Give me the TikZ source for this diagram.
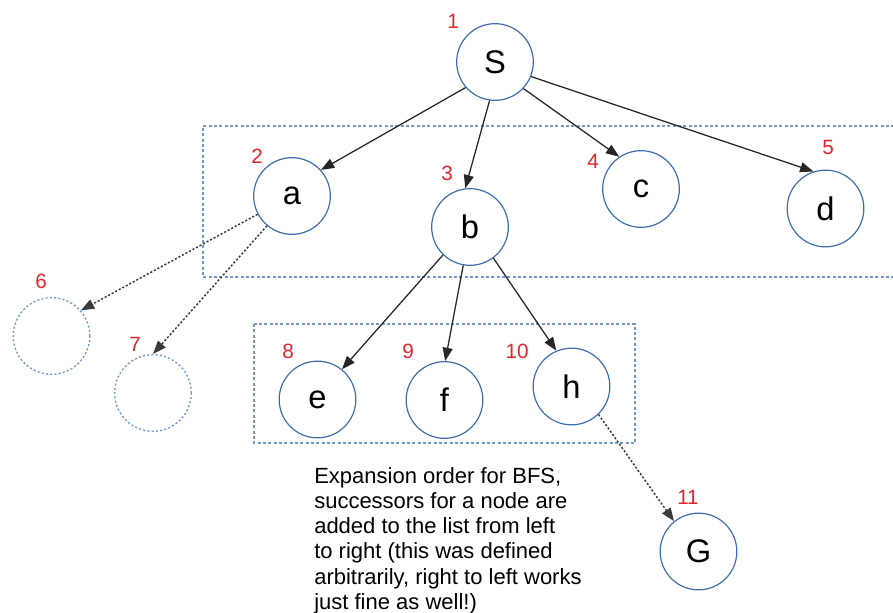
\documentclass[tikz,border=0pt]{standalone}
\usepackage{fontspec}
\setmainfont{Liberation Sans}
\usetikzlibrary{arrows.meta}
\definecolor{nodeblue}{HTML}{3F6EAF}
\definecolor{boxblue}{HTML}{7399CC}
\definecolor{lblred}{HTML}{E3242B}
\definecolor{dotgray}{HTML}{3A3A3A}
\tikzset{
  state/.style={circle, draw=nodeblue, line width=0.9pt, minimum size=57.5pt, inner sep=0pt, font=\fontsize{24.5}{24.5}\selectfont},
  ghost/.style={circle, draw=boxblue, line width=1pt, dash pattern=on 1.6pt off 1.6pt, minimum size=57.5pt, inner sep=0pt},
  order/.style={text=lblred, font=\fontsize{15.5}{15.5}\selectfont, inner sep=0pt},
  frame/.style={draw=boxblue, line width=1.1pt, dash pattern=on 2.2pt off 1.8pt},
  tree/.style={draw=black!85, line width=0.95pt, -{Triangle[length=10pt,width=7.5pt]}},
  later/.style={draw=dotgray, line width=1.1pt, dash pattern=on 1.6pt off 1.4pt, -{Triangle[length=10pt,width=7.5pt]}},
  note/.style={font=\fontsize{16.5}{18.9}\selectfont, align=left, inner sep=0pt, anchor=north west}
}
\begin{document}
\begin{tikzpicture}[x=0.75pt, y=-0.75pt]
\useasboundingbox (0,0) rectangle (893,613);
% frames
\draw[frame] (905,126) -- (203,126) -- (203,277) -- (905,277);
\draw[frame] (254,324) rectangle (635,443);
% nodes
\node[state] (S) at (495,62) {S};
\node[state] (a) at (292,196) {a};
\node[state] (b) at (470,227) {b};
\node[state] (c) at (641,189) {c};
\node[state] (d) at (825.5,208.5) {d};
\node[ghost] (g6) at (51.5,336) {};
\node[ghost] (g7) at (153,393) {};
\node[state] (e) at (317.5,399.5) {e};
\node[state] (f) at (444.5,400) {f};
\node[state] (h) at (571.5,386.5) {h};
\node[state] (G) at (698.5,551.5) {G};
% order labels
\node[order] (l1) at (453,21) {1};
\node[order] (l2) at (257,156) {2};
\node[order] (l3) at (447,173) {3};
\node[order] (l4) at (593,161) {4};
\node[order] (l5) at (828,147) {5};
\node[order] (l6) at (41,281) {6};
\node[order] (l7) at (135,344) {7};
\node[order] (l8) at (288,351) {8};
\node[order] (l9) at (408,351) {9};
\node[order] (l10) at (517,351) {10};
\node[order] (l11) at (688,497) {11};
% edges
\draw[tree] (S.221) -- (a.42);
\draw[tree] (S.262) -- (b.97);
\draw[tree] (S.317) -- (c.124);
\draw[tree] (S.338) -- (d.108);
\draw[tree] (b.226) -- (e.51);
\draw[tree] (b.260) -- (f.89);
\draw[tree] (b.307) -- (h.113);
\draw[later] (a.208) -- (g6.41);
\draw[later] (a.230) -- (g7.90);
\draw[later] (h.314) -- (G.129);
% note
\node[note] (txt) at (314,467) {Expansion order for BFS,\\successors for a node are\\added to the list from left\\to right (this was defined\\arbitrarily, right to left works\\just fine as well!)};
\end{tikzpicture}
\end{document}
